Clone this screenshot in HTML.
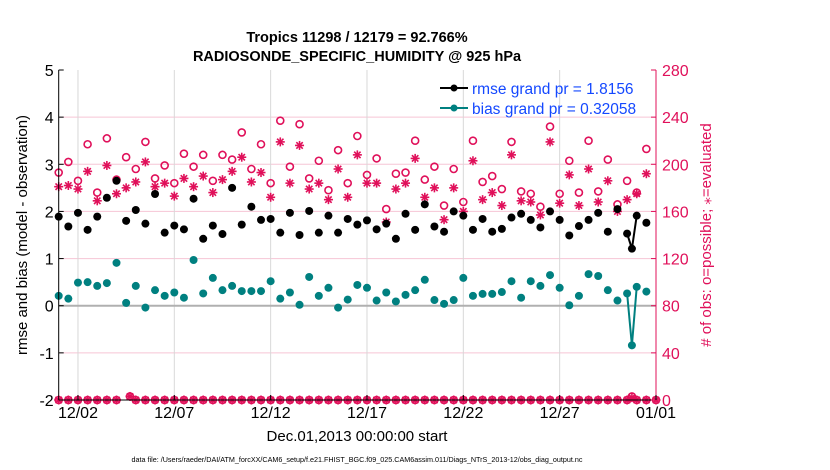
<!DOCTYPE html>
<html><head><meta charset="utf-8"><style>
body{margin:0;background:#fff;}
svg{display:block;font-family:"Liberation Sans",sans-serif;}
</style></head><body>
<svg id="chart" width="830" height="470" viewBox="0 0 830 470">
<text x="357" y="42" text-anchor="middle" font-size="14.5" font-weight="bold">Tropics 11298 / 12179 = 92.766%</text>
<text x="357" y="61" text-anchor="middle" font-size="14.5" font-weight="bold">RADIOSONDE_SPECIFIC_HUMIDITY @ 925 hPa</text>
<g id="grid"></g>
<g id="marks"></g>
<rect x="58.7" y="70" width="597.3" height="330" fill="none" stroke="none"/>
<line x1="58.7" y1="70" x2="58.7" y2="400" stroke="#000" stroke-width="1"/>
<line x1="58.7" y1="400" x2="656" y2="400" stroke="#000" stroke-width="1"/>
<line x1="656" y1="70" x2="656" y2="400" stroke="#e0105a" stroke-width="1"/>
<g id="ticks"></g>
<text transform="translate(27,235) rotate(-90)" text-anchor="middle" font-size="15">rmse and bias (model - observation)</text>
<text transform="translate(711,235) rotate(-90)" text-anchor="middle" font-size="15" fill="#e0105a"># of obs: o=possible; ⁎=evaluated</text>
<text x="357" y="441" text-anchor="middle" font-size="15">Dec.01,2013 00:00:00 start</text>
<text x="357" y="462" text-anchor="middle" font-size="7.2">data file: /Users/raeder/DAI/ATM_forcXX/CAM6_setup/f.e21.FHIST_BGC.f09_025.CAM6assim.011/Diags_NTrS_2013-12/obs_diag_output.nc</text>
<g>
<g>
<line x1="440" y1="88" x2="468" y2="88" stroke="#000" stroke-width="2"/>
<circle cx="454" cy="88" r="3.5" fill="#000"/>
<text x="472" y="94" font-size="15.5" fill="#1448ff">rmse grand pr = 1.8156</text>
</g>
<g>
<line x1="440" y1="108" x2="468" y2="108" stroke="#008080" stroke-width="2"/>
<circle cx="454" cy="108" r="3.5" fill="#008080"/>
<text x="472" y="114" font-size="15.5" fill="#1448ff">bias grand pr = 0.32058</text>
</g>
</g>
</svg>
<script>
const days=[0,0.5,1,1.5,2,2.5,3,3.5,4,4.5,5,5.5,6,6.5,7,7.5,8,8.5,9,9.5,10,10.5,11,11.5,12,12.5,13,13.5,14,14.5,15,15.5,16,16.5,17,17.5,18,18.5,19,19.5,20,20.5,21,21.5,22,22.5,23,23.5,24,24.5,25,25.5,26,26.5,27,27.5,28,28.5,29,29.5,29.75,30,30.5];
const rmse=[1.89,1.68,1.97,1.61,1.89,2.29,2.65,1.80,2.03,1.74,2.37,1.55,1.70,1.62,2.27,1.42,1.70,1.52,2.50,1.72,2.10,1.82,1.84,1.55,1.97,1.50,2.01,1.55,1.91,1.55,1.84,1.72,1.81,1.62,1.74,1.42,1.95,1.61,2.15,1.68,1.57,2.00,1.91,1.61,1.84,1.57,1.63,1.87,1.95,1.82,1.66,2.00,1.82,1.49,1.69,1.82,1.97,1.57,2.05,1.53,1.21,1.91,1.76];
const bias=[0.21,0.15,0.49,0.50,0.42,0.48,0.91,0.06,0.42,-0.04,0.33,0.21,0.28,0.17,0.97,0.26,0.59,0.33,0.42,0.31,0.31,0.31,0.52,0.15,0.28,0.02,0.61,0.21,0.38,-0.04,0.13,0.44,0.38,0.11,0.28,0.09,0.23,0.33,0.55,0.12,0.04,0.12,0.59,0.21,0.25,0.25,0.29,0.52,0.17,0.52,0.42,0.65,0.38,0.01,0.21,0.67,0.63,0.33,0.11,0.26,-0.84,0.40,0.30];
const possible=[193,202,186,217,176,222,187,206,196,219,188,199,184,209,198,208,186,208,204,227,196,217,184,237,198,234,188,203,178,212,184,224,191,205,162,192,193,220,187,198,165,196,168,220,185,190,179,219,177,175,164,232,175,203,176,220,177,204,166,186,3,176,213];
const evaluated=[181,182,179,194,169,199,175,180,185,202,181,184,173,188,181,190,176,187,194,206,185,193,172,219,184,216,179,184,170,196,172,208,184,184,151,179,184,205,172,180,153,180,160,203,170,176,165,208,169,168,157,219,167,191,165,196,168,186,160,170,2,175,192];
const zeroDays=[0,0.5,1,1.5,2,2.5,3,3.7,4,4.5,5,5.5,6,6.5,7,7.5,8,8.5,9,9.5,10,10.5,11,11.5,12,12.5,13,13.5,14,14.5,15,15.5,16,16.5,17,17.5,18,18.5,19,19.5,20,20.5,21,21.5,22,22.5,23,23.5,24,24.5,25,25.5,26,26.5,27,27.5,28,28.5,29,29.5,30,30.5,31];
const zeroCounts=[0,0,0,0,0,0,0,3,0,0,0,0,0,0,0,0,0,0,0,0,0,0,0,0,0,0,0,0,0,0,0,0,0,0,0,0,0,0,0,0,0,0,0,0,0,0,0,0,0,0,0,0,0,0,0,0,0,0,0,0,0,0,0];
const leftTicks=[-2,-1,0,1,2,3,4,5];
const rightTicks=[0,40,80,120,160,200,240,280];
const xTickDays=[1,6,11,16,21,26,31];
const xTickLabels=["12/02","12/07","12/12","12/17","12/22","12/27","01/01"];

const NS="http://www.w3.org/2000/svg";
const X0=58.7,X1=656,Y0=400,Y1=70;
function xs(d){return X0+(d-0)/(31-0)*(X1-X0);}
function yl(v){return Y0-(v+2)/7*(Y0-Y1);}
function yr(c){return Y0-c/280*(Y0-Y1);}
function mk(tag,attrs,parent){const e=document.createElementNS(NS,tag);for(const k in attrs)e.setAttribute(k,attrs[k]);parent.appendChild(e);return e;}
const grid=document.getElementById('grid'),marks=document.getElementById('marks'),ticks=document.getElementById('ticks');
const PINK="#e0105a";

leftTicks.forEach(v=>{
  const y=yl(v);
  if(v!==-2&&v!==5&&v!==0){const g=mk('line',{x1:X0,x2:X1,y1:y,y2:y,stroke:'#f6c5d5','stroke-width':1},grid);
  
  }
  const t=mk('line',{x1:X0,x2:X0+5,y1:y,y2:y,stroke:'#000'},ticks);
  
  
  const l=mk('text',{x:X0-5,y:y+6,'text-anchor':'end','font-size':16},ticks);
  l.textContent=v;
  
  
});
rightTicks.forEach(c=>{
  const y=yr(c);
  const t=mk('line',{x1:X1-5,x2:X1,y1:y,y2:y,stroke:PINK},ticks);
  
  
  const l=mk('text',{x:X1+6,y:y+6,'font-size':16,fill:PINK},ticks);
  l.textContent=c;
  
  
});
xTickDays.forEach((d,i)=>{
  const x=xs(d);
  if(d<31){const g=mk('line',{x1:x,x2:x,y1:Y1,y2:Y0,stroke:'#d8d8d8','stroke-width':1},grid);
  
  }
  const t=mk('line',{x1:x,x2:x,y1:Y0-5,y2:Y0,stroke:'#000'},ticks);
  
  
  const l=mk('text',{x:x,y:418,'text-anchor':'middle','font-size':16},ticks);
  l.textContent=xTickLabels[i];
  
  
});
const zl=mk('line',{x1:X0,x2:X1,y1:yl(0),y2:yl(0),stroke:'#b0b0b0','stroke-width':2},grid);



function star(x,y,name){
  const g=mk('g',{stroke:PINK,'stroke-width':1.6},marks);
  
  
  const r=4.5,r2=3.2;
  mk('line',{x1:x-r,x2:x+r,y1:y,y2:y},g);
  mk('line',{x1:x,x2:x,y1:y-r,y2:y+r},g);
  mk('line',{x1:x-r2,x2:x+r2,y1:y-r2,y2:y+r2},g);
  mk('line',{x1:x-r2,x2:x+r2,y1:y+r2,y2:y-r2},g);
}
function ring(x,y,name){
  const c=mk('circle',{cx:x,cy:y,r:3.5,fill:'none',stroke:PINK,'stroke-width':1.6},marks);
  
  
}
zeroDays.forEach((d,i)=>{ring(xs(d),yr(zeroCounts[i]),'zero-possible-point');star(xs(d),yr(zeroCounts[i]),'zero-evaluated-point');});
days.forEach((d,i)=>{ring(xs(d),yr(possible[i]),'possible-point');star(xs(d),yr(evaluated[i]),'evaluated-point');});

function series(vals,color,name){
  for(let i=1;i<days.length;i++){
    if(days[i]-days[i-1]<0.4){
      const l=mk('line',{x1:xs(days[i-1]),y1:yl(vals[i-1]),x2:xs(days[i]),y2:yl(vals[i]),stroke:color,'stroke-width':2},marks);
      
      
    }
  }
  days.forEach((d,i)=>{
    const c=mk('circle',{cx:xs(d),cy:yl(vals[i]),r:4,fill:color},marks);
    
    
  });
}
series(rmse,'#000','rmse');
series(bias,'#008080','bias');
</script>
</body></html>
